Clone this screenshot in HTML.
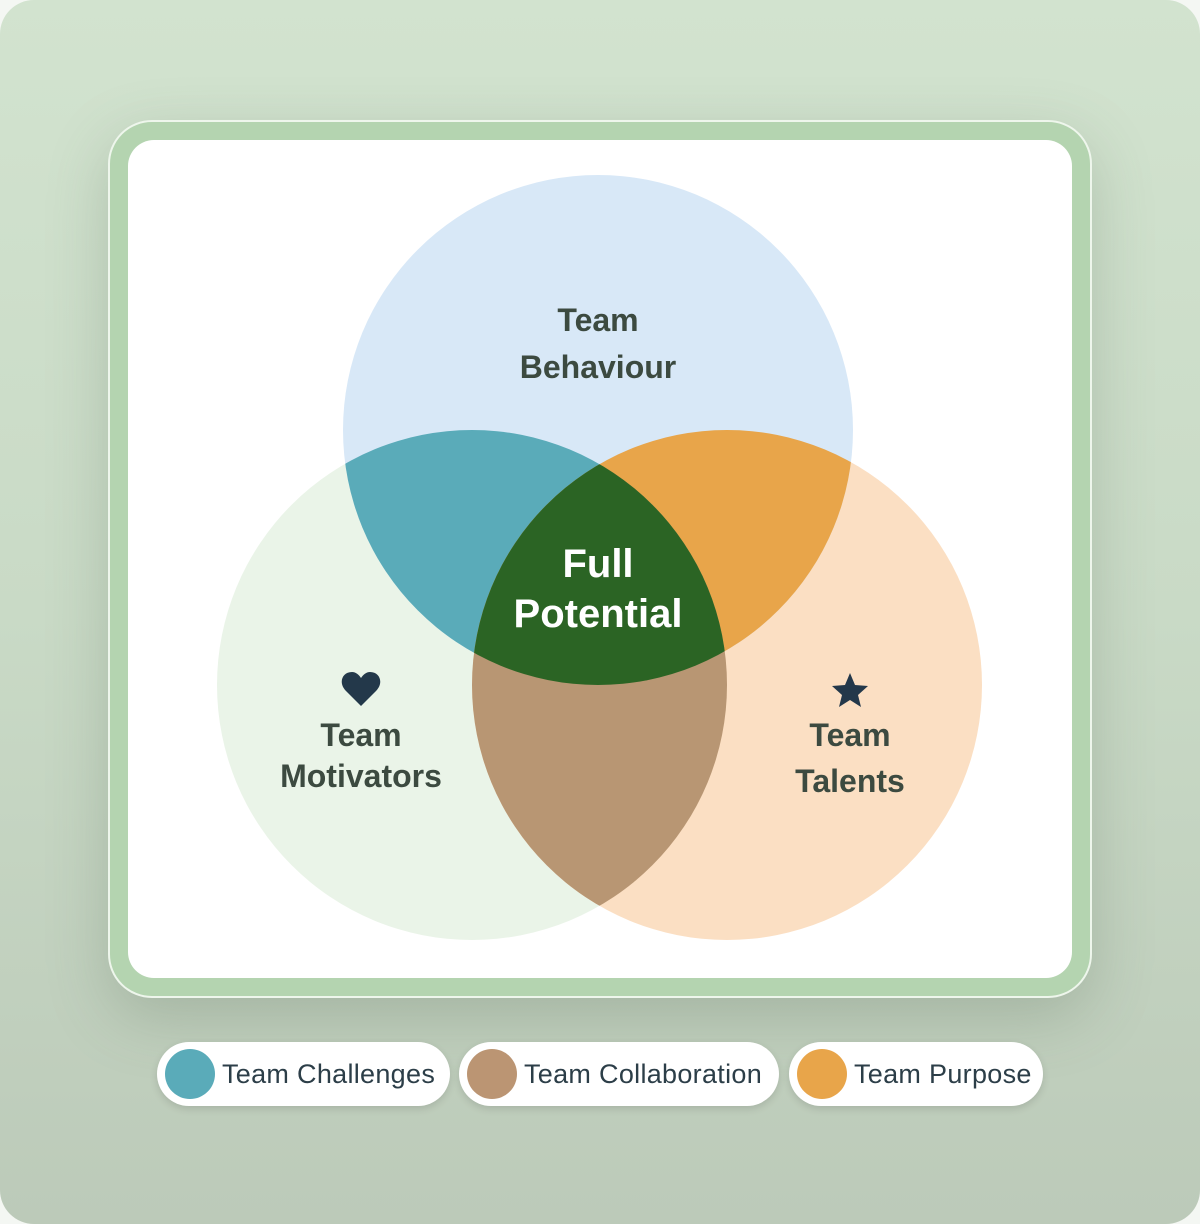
<!DOCTYPE html>
<html><head><meta charset="utf-8"><style>
html{margin:0;padding:0;background:#f4f7f3;}
body{margin:0;padding:0;width:1200px;height:1224px;overflow:hidden;background:linear-gradient(180deg,#d2e3cf 0%,#c9dac6 50%,#bccab9 100%);font-family:"Liberation Sans",sans-serif;position:relative;border-radius:34px;}
.frame{position:absolute;left:108px;top:120px;width:980px;height:874px;background:#b4d4b0;border:2px solid #eef6ec;border-radius:44px;box-shadow:0 20px 60px rgba(80,100,80,0.25);}
.inner{position:absolute;left:128px;top:140px;width:944px;height:838px;background:#fff;border-radius:26px;}
svg{position:absolute;left:0;top:0;}
.pill{position:absolute;top:1042px;height:64px;background:#fff;border-radius:32px;box-shadow:0 3px 8px rgba(0,0,0,0.12);}
.dot{position:absolute;left:8px;top:7px;width:50px;height:50px;border-radius:50%;}
.pill span{position:absolute;left:65px;top:17px;font-size:27px;color:#2c3e48;white-space:nowrap;letter-spacing:0.3px;}
</style></head><body>
<div class="frame"></div>
<div class="inner"></div>
<svg width="1200" height="1224" viewBox="0 0 1200 1224">
<defs>
<clipPath id="cT"><circle cx="598" cy="430" r="255"/></clipPath>
<clipPath id="cL"><circle cx="472" cy="685" r="255"/></clipPath>
<clipPath id="cR"><circle cx="727" cy="685" r="255"/></clipPath>
</defs>
<circle cx="472" cy="685" r="255" fill="#eaf4e8"/>
<circle cx="727" cy="685" r="255" fill="#fbdfc3"/>
<circle cx="598" cy="430" r="255" fill="#d8e8f7"/>
<g clip-path="url(#cT)"><circle cx="472" cy="685" r="255" fill="#5aabb9"/><circle cx="727" cy="685" r="255" fill="#e8a54a"/></g>
<g clip-path="url(#cL)"><circle cx="727" cy="685" r="255" fill="#b89673"/></g>
<g clip-path="url(#cT)"><g clip-path="url(#cL)"><circle cx="727" cy="685" r="255" fill="#2b6424"/></g></g>
<g font-family="Liberation Sans, sans-serif" font-weight="bold" text-anchor="middle">
<text x="598" y="331" font-size="32" fill="#3c4a40">Team</text>
<text x="598" y="378" font-size="32" fill="#3c4a40">Behaviour</text>
<text x="598" y="577" font-size="40" fill="#fff">Full</text>
<text x="598" y="627" font-size="40" fill="#fff">Potential</text>
<text x="361" y="746" font-size="32" fill="#3c4a40">Team</text>
<text x="361" y="787" font-size="32" fill="#3c4a40">Motivators</text>
<text x="850" y="746" font-size="32" fill="#3c4a40">Team</text>
<text x="850" y="792" font-size="32" fill="#3c4a40">Talents</text>
</g>
<path d="M361 706 L346 691 C338 683 342 672 352 672 C356 672 359 675 361 678 C363 675 366 672 370 672 C380 672 384 683 376 691 Z" fill="#23384a"/>
<polygon points="850,673 855,685 868,686 858,695 861,707 850,700 839,707 842,695 832,686 845,685" fill="#23384a"/>
</svg>
<div class="pill" style="left:157px;width:293px;"><div class="dot" style="background:#5aabb9"></div><span>Team Challenges</span></div>
<div class="pill" style="left:459px;width:320px;"><div class="dot" style="background:#bb9573"></div><span>Team Collaboration</span></div>
<div class="pill" style="left:789px;width:254px;"><div class="dot" style="background:#e8a54a"></div><span>Team Purpose</span></div>
</body></html>
